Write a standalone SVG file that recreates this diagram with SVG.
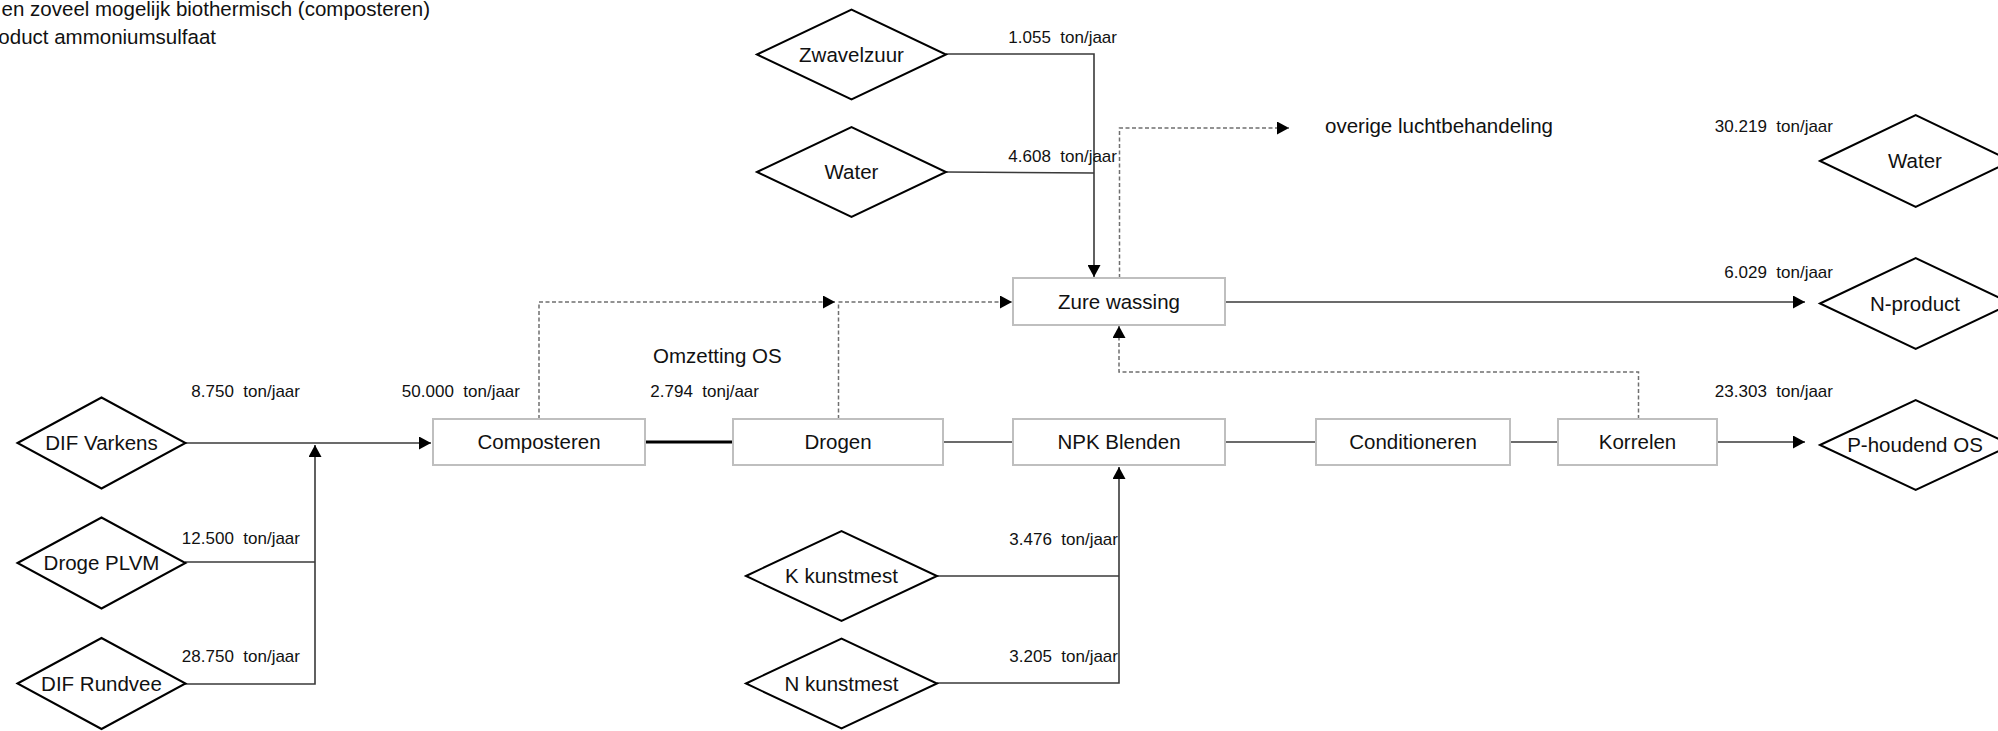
<svg xmlns="http://www.w3.org/2000/svg" width="1998" height="731" viewBox="0 0 1998 731">
  <style>
    text { font-family: "Liberation Sans", Arial, sans-serif; fill: #111; white-space: pre; }
    .lbl { font-size: 20.5px; }
    .qty { font-size: 17px; text-anchor: end; }
    .mid { text-anchor: middle; }
    .box { fill: #fff; stroke: #bfbfbf; stroke-width: 2; }
    .dia { fill: #fff; stroke: #000; stroke-width: 2; }
    .flow { fill: none; stroke: #3a3a3a; stroke-width: 1.6; }
    .heavy { fill: none; stroke: #000; stroke-width: 3; }
    .air { fill: none; stroke: #6f6f6f; stroke-width: 1.5; stroke-dasharray: 4 2.5; }
  </style>
  <defs>
    <marker id="arrow" markerUnits="userSpaceOnUse" markerWidth="12" markerHeight="13" refX="12" refY="6.5" orient="auto">
      <path d="M0,0 L12,6.5 L0,13 z" fill="#000"/>
    </marker>
  </defs>
  <rect width="1998" height="731" fill="#fff"/>

  <!-- heading lines, running in from the left edge -->
  <text class="lbl" x="430" y="16" text-anchor="end">en zoveel mogelijk biothermisch (composteren)</text>
  <text class="lbl" x="216" y="44" text-anchor="end">oduct ammoniumsulfaat</text>

  <!-- connectors -->
  <g id="connectors">
    <!-- inputs to composting -->
    <path class="flow" d="M185,443 H431" marker-end="url(#arrow)"/>
    <path class="flow" d="M185,562 H315"/>
    <path class="flow" d="M185,684 H315 V445" marker-end="url(#arrow)"/>
    <!-- main process line -->
    <path class="heavy" d="M645,442 H733"/>
    <path class="flow" d="M943,442 H1013"/>
    <path class="flow" d="M1225,442 H1316"/>
    <path class="flow" d="M1510,442 H1558"/>
    <path class="flow" d="M1717,442 H1805" marker-end="url(#arrow)"/>
    <!-- acid scrubber in/out -->
    <path class="flow" d="M946,54 H1094 V277" marker-end="url(#arrow)"/>
    <path class="flow" d="M946,172 L1094,173"/>
    <path class="flow" d="M1225,302 H1805" marker-end="url(#arrow)"/>
    <!-- fertiliser additions -->
    <path class="flow" d="M937,576 H1119"/>
    <path class="flow" d="M937,683 H1119 V467" marker-end="url(#arrow)"/>
    <!-- exhaust air (dashed) -->
    <path class="air" d="M539,419 V302 H835" marker-end="url(#arrow)"/>
    <path class="air" d="M838.5,419 V302 H1012" marker-end="url(#arrow)"/>
    <path class="air" d="M1119.5,278 V128 H1289" marker-end="url(#arrow)"/>
    <path class="air" d="M1638.5,419 V372 H1119 V326" marker-end="url(#arrow)"/>
  </g>

  <!-- flow quantities -->
  <g id="quantities">
    <text class="qty" x="300" y="397">8.750  ton/jaar</text>
    <text class="qty" x="300" y="544">12.500  ton/jaar</text>
    <text class="qty" x="300" y="662">28.750  ton/jaar</text>
    <text class="qty" x="520" y="397">50.000  ton/jaar</text>
    <text class="qty" x="759" y="397">2.794  tonj/aar</text>
    <text class="qty" x="1117" y="43">1.055  ton/jaar</text>
    <text class="qty" x="1117" y="162">4.608  ton/jaar</text>
    <text class="qty" x="1118" y="545">3.476  ton/jaar</text>
    <text class="qty" x="1118" y="662">3.205  ton/jaar</text>
    <text class="qty" x="1833" y="132">30.219  ton/jaar</text>
    <text class="qty" x="1833" y="278">6.029  ton/jaar</text>
    <text class="qty" x="1833" y="397">23.303  ton/jaar</text>
    <text class="lbl" x="653" y="363">Omzetting OS</text>
    <text class="lbl" x="1325" y="133">overige luchtbehandeling</text>
  </g>

  <!-- input streams -->
  <g id="dif-varkens">
    <polygon class="dia" points="17.5,443 101.5,397.5 185.5,443 101.5,488.5"/>
    <text class="lbl mid" x="101.5" y="450">DIF Varkens</text>
  </g>
  <g id="droge-plvm">
    <polygon class="dia" points="17.5,563 101.5,517.5 185.5,563 101.5,608.5"/>
    <text class="lbl mid" x="101.5" y="570">Droge PLVM</text>
  </g>
  <g id="dif-rundvee">
    <polygon class="dia" points="17.5,683.5 101.5,638 185.5,683.5 101.5,729"/>
    <text class="lbl mid" x="101.5" y="690.5">DIF Rundvee</text>
  </g>
  <g id="zwavelzuur">
    <polygon class="dia" points="757,54.5 851.5,9.5 946,54.5 851.5,99.5"/>
    <text class="lbl mid" x="851.5" y="61.5">Zwavelzuur</text>
  </g>
  <g id="water-in">
    <polygon class="dia" points="757,172 851.5,127 946,172 851.5,217"/>
    <text class="lbl mid" x="851.5" y="179">Water</text>
  </g>
  <g id="k-kunstmest">
    <polygon class="dia" points="746,576 841.5,531 937,576 841.5,621"/>
    <text class="lbl mid" x="841.5" y="583">K kunstmest</text>
  </g>
  <g id="n-kunstmest">
    <polygon class="dia" points="746,683.5 841.5,638.5 937,683.5 841.5,728.5"/>
    <text class="lbl mid" x="841.5" y="690.5">N kunstmest</text>
  </g>

  <!-- process steps -->
  <g id="composteren">
    <rect class="box" x="433" y="419" width="212" height="46"/>
    <text class="lbl mid" x="539" y="449">Composteren</text>
  </g>
  <g id="drogen">
    <rect class="box" x="733" y="419" width="210" height="46"/>
    <text class="lbl mid" x="838" y="449">Drogen</text>
  </g>
  <g id="zure-wassing">
    <rect class="box" x="1013" y="278" width="212" height="47"/>
    <text class="lbl mid" x="1119" y="309">Zure wassing</text>
  </g>
  <g id="npk-blenden">
    <rect class="box" x="1013" y="419" width="212" height="46"/>
    <text class="lbl mid" x="1119" y="449">NPK Blenden</text>
  </g>
  <g id="conditioneren">
    <rect class="box" x="1316" y="419" width="194" height="46"/>
    <text class="lbl mid" x="1413" y="449">Conditioneren</text>
  </g>
  <g id="korrelen">
    <rect class="box" x="1558" y="419" width="159" height="46"/>
    <text class="lbl mid" x="1637.5" y="449">Korrelen</text>
  </g>

  <!-- output streams -->
  <g id="water-out">
    <polygon class="dia" points="1820,161 1915.7,115 2011.4,161 1915.7,207"/>
    <text class="lbl mid" x="1915" y="168">Water</text>
  </g>
  <g id="n-product">
    <polygon class="dia" points="1820,303.5 1915.7,258 2011.4,303.5 1915.7,349"/>
    <text class="lbl mid" x="1915" y="310.5">N-product</text>
  </g>
  <g id="p-houdend-os">
    <polygon class="dia" points="1820,445 1915.7,400 2011.4,445 1915.7,490"/>
    <text class="lbl mid" x="1915" y="452">P-houdend OS</text>
  </g>
</svg>
